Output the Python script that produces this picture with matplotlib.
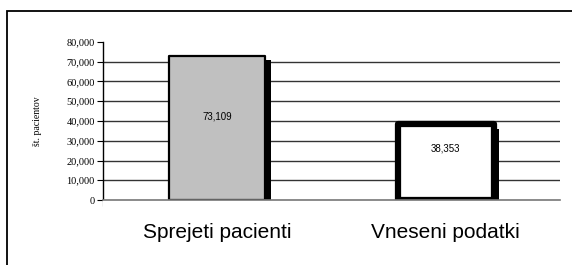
import matplotlib
matplotlib.use("Agg")
import matplotlib.pyplot as plt
import matplotlib.patheffects as pe
from matplotlib.patches import Rectangle

categories = ["Sprejeti pacienti", "Vneseni podatki"]
values = [73109, 38353]
value_labels = ["73,109", "38,353"]
yticks = [0, 10000, 20000, 30000, 40000, 50000, 60000, 70000, 80000]
ytick_labels = ["0", "10,000", "20,000", "30,000", "40,000", "50,000", "60,000", "70,000", "80,000"]
ylabel = "št. pacientov"

W, H = 572, 265
fig = plt.figure(figsize=(W / 100, H / 100), dpi=100)
fig.patch.set_facecolor("white")

# outer chart frame
fig.patches.append(Rectangle((7 / W, -0.1), 1.2, 1 - 11 / H + 0.1, transform=fig.transFigure,
                             fill=False, edgecolor="black", linewidth=1.3, zorder=0))

ax = fig.add_axes([103 / W, 1 - 200 / H, (560 - 103) / W, (200 - 42) / H])
ax.set_xlim(0, 2)
ax.set_ylim(0, 80000)

# gridlines
for v in yticks[1:-1]:
    ax.axhline(v, color="#333333", linewidth=1.0, zorder=1)

pos = [0.5, 1.5]
width = 0.42
styles = [dict(facecolor="#c0c0c0", lw=1.6), dict(facecolor="white", lw=4.5)]
label_frac = [0.575, 0.686]
for i, (p, v) in enumerate(zip(pos, values)):
    b = ax.bar(p, v, width=width, facecolor=styles[i]["facecolor"], edgecolor="black",
               linewidth=styles[i]["lw"], zorder=3, clip_on=False)
    for patch in b:
        patch.set_joinstyle("round")
        patch.set_path_effects([pe.SimplePatchShadow(offset=(4, -3.5), shadow_rgbFace="black", alpha=1.0),
                                pe.Normal()])
    ax.text(p, v * label_frac[i], value_labels[i], ha="center", va="center",
            fontsize=7, family="Liberation Sans", zorder=5)

# cover shadows below axis
ax.add_patch(Rectangle((0, -8000), 2.2, 8000, facecolor="white", edgecolor="none",
                       zorder=4, clip_on=False))

for s in ["top", "right"]:
    ax.spines[s].set_visible(False)
ax.spines["left"].set_color("black")
ax.spines["left"].set_linewidth(1.0)
ax.spines["bottom"].set_color("#777777")
ax.spines["bottom"].set_linewidth(1.2)
ax.spines["bottom"].set_zorder(6)

ax.set_yticks(yticks)
ax.set_yticklabels(ytick_labels, family="Liberation Serif", fontsize=7.5)
ax.tick_params(axis="y", direction="out", length=4, width=0.8, pad=2)

ax.set_xticks([0, 1, 2])
ax.set_xticklabels([])
ax.tick_params(axis="x", direction="out", length=4, width=0.8)
for p, c in zip(pos, categories):
    ax.text(p, -0.205, c, transform=ax.get_xaxis_transform(), ha="center", va="center",
            fontsize=15, family="Liberation Sans")

fig.text(38 / W, 1 - 121 / H, ylabel, rotation=90, ha="center", va="center",
         family="Liberation Serif", fontsize=7)

fig.savefig("out.png", dpi=100)
